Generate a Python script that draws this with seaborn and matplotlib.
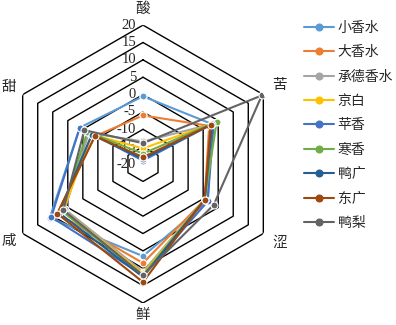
import numpy as np
import pandas as pd
import matplotlib
matplotlib.use("Agg")
import matplotlib.pyplot as plt
import seaborn as sns
from matplotlib.lines import Line2D

categories = ["酸", "苦", "涩", "鲜", "咸", "甜"]
series_names = ["小香水", "大香水", "承德香水", "京白", "苹香", "寒香", "鸭广", "东广", "鸭梨"]

xiaoxiangshui = [-0.5, 3.0, 1.5, 6.5, 11.0, 1.0]
daxiangshui = [-6.0, 2.0, 0.5, 8.5, 8.5, -4.0]
chengdexiangshui = [-13.5, 3.0, 0.5, 11.0, 6.0, -2.0]
jingbai = [-15.5, 3.5, 0.5, 11.5, 6.5, -3.0]
pingxiang = [-19.0, 3.5, 1.5, 12.0, 10.5, 1.0]
hanxiang = [-17.0, 4.5, 0.5, 12.0, 7.0, -1.5]
yaguang = [-18.5, 3.0, 0.5, 12.5, 8.0, -3.0]
dongguang = [-18.0, 2.5, 0.5, 14.0, 8.5, -4.0]
yali = [-14.0, 19.5, 3.5, 12.0, 6.5, -0.5]

values = [xiaoxiangshui, daxiangshui, chengdexiangshui, jingbai, pingxiang,
          hanxiang, yaguang, dongguang, yali]
ring_levels = [-15, -10, -5, 0, 5, 10, 15, 20]
tick_labels = ["20", "15", "10", "5", "0", "-5", "-10", "-15", "-20"]
tick_values = [20, 15, 10, 5, 0, -5, -10, -15, -20]

colors = ["#5B9BD5", "#ED7D31", "#A5A5A5", "#FFC000", "#4472C4",
          "#70AD47", "#255E91", "#9E480E", "#636363"]

sns.set_theme(style="white")
plt.rcParams["font.family"] = ["Liberation Serif", "Noto Sans CJK SC", "DejaVu Sans"]

n = len(categories)
angles = np.arange(n) * 2 * np.pi / n

rows = []
for name, vals in zip(series_names, values):
    for i, (a, v) in enumerate(zip(list(angles) + [angles[0] + 2 * np.pi], vals + [vals[0]])):
        rows.append({"series": name, "theta": a, "value": v, "order": i})
df = pd.DataFrame(rows)

fig = plt.figure(figsize=(3.96, 3.25), dpi=100)
ax = fig.add_axes([0.0101, 0.0677, 0.702, 0.855], projection="polar")
ax.set_theta_zero_location("N")
ax.set_theta_direction(-1)
ax.set_ylim(-20, 20)
ax.grid(False)
ax.spines["polar"].set_visible(False)
ax.set_yticks([])
ax.set_xticks([])

# hexagonal rings
ring_theta = list(angles) + [angles[0]]
for r in ring_levels:
    ax.plot(ring_theta, [r] * len(ring_theta), color="black", lw=1.0, zorder=1)

sns.lineplot(data=df, x="theta", y="value", hue="series", palette=colors,
             hue_order=series_names, sort=False, estimator=None, marker="o",
             markersize=5, markeredgewidth=0.8, linewidth=1.5, ax=ax,
             legend=False, zorder=3)
ax.set_xlabel("")
ax.set_ylabel("")

label_r = [24.8, 25.5, 25.5, 23.5, 24.5, 24.5]
for a, c, lr in zip(angles, categories, label_r):
    ax.text(a, lr, c, ha="center", va="center", fontsize=10.5,
            family=["Noto Sans CJK SC"], clip_on=False)

for tv, tl in zip(tick_values, tick_labels):
    ax.annotate(tl, xy=(0, tv), xytext=(-5, 0), textcoords="offset points",
                ha="right", va="center", fontsize=10.5, family="Liberation Serif",
                zorder=2)

handles = [Line2D([0], [0], color=c, lw=1.5, marker="o", markersize=5,
                  markeredgewidth=0.8) for c in colors]
fig.legend(handles, series_names, loc="upper left", bbox_to_anchor=(0.737, 0.975),
           frameon=False, handlelength=2.1, handletextpad=0.3,
           labelspacing=0.75, prop={"family": ["Noto Sans CJK SC"], "size": 10})

fig.savefig("out.png", dpi=100)
